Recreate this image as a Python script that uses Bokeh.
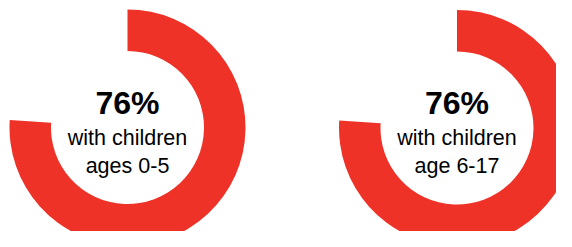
import math
from bokeh.plotting import figure
from bokeh.models import Range1d, ColumnDataSource
from bokeh.core.properties import value
from bokeh.embed import file_html
from bokeh.resources import INLINE

# Data
percents = [76, 76]
line1 = ["with children", "with children"]
line2 = ["ages 0-5", "age 6-17"]

# layout (pixel-like data units; y measured from bottom of 247px canvas)
cx = [127, 456.5]
cy = [120, 119.5]
r_in = 76.5
r_out = 118

start = [math.pi / 2 - 2 * math.pi * v / 100 for v in percents]
end = [math.pi / 2 for _ in percents]

src = ColumnDataSource(dict(
    x=cx, y=cy, start=start, end=end,
    pct=[f"{v}%" for v in percents], l1=line1, l2=line2,
    y_pct=[c + 25 for c in cy],
    y_l1=[c - 10 for c in cy],
    y_l2=[c - 38 for c in cy],
))

p = figure(width=556, height=231, output_backend="svg", toolbar_location=None,
           x_range=Range1d(0, 556), y_range=Range1d(16, 247),
           min_border=0, outline_line_color=None)
p.axis.visible = False
p.grid.visible = False
p.background_fill_color = "white"
p.border_fill_color = "white"

p.annular_wedge(x="x", y="y", inner_radius=r_in, outer_radius=r_out,
                start_angle="start", end_angle="end", direction="anticlock",
                fill_color="#EE3228", line_color=None, source=src)

p.text(x="x", y="y_pct", text="pct", text_align="center", text_baseline="alphabetic",
       text_font=value("Liberation Sans"), text_font_style="bold",
       text_font_size="32px", text_color="black", source=src)
p.text(x="x", y="y_l1", text="l1", text_align="center", text_baseline="alphabetic",
       text_font=value("Liberation Sans"), text_font_size="21.5px",
       text_color="black", source=src)
p.text(x="x", y="y_l2", text="l2", text_align="center", text_baseline="alphabetic",
       text_font=value("Liberation Sans"), text_font_size="21.5px",
       text_color="black", source=src)

open("out.html", "w").write(file_html(p, INLINE))
